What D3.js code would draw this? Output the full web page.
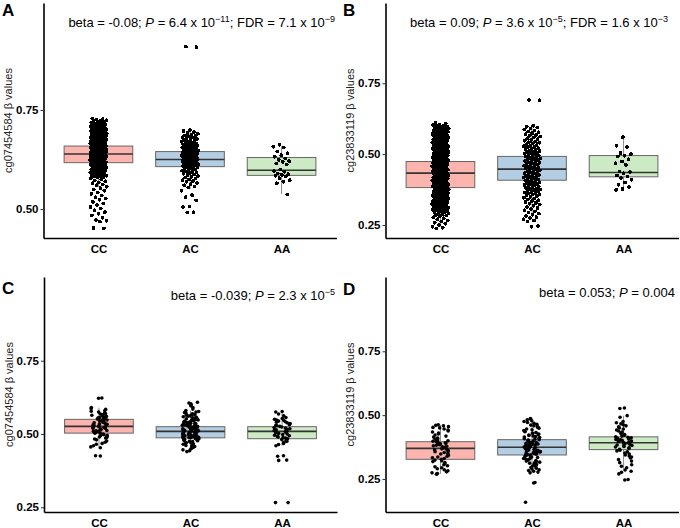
<!DOCTYPE html>
<html>
<head>
<meta charset="utf-8">
<script src="https://cdn.jsdelivr.net/npm/d3@7"></script>
<style>
body { margin: 0; background: #fff; }
svg { display: block; font-family: "Liberation Sans", Arial, sans-serif; }
</style>
</head>
<body>
<svg width="680" height="528"></svg>
<script>
const WIDTH = 680
const HEIGHT = 528
const JITTER = 0.092   // in category steps, each side
const BOX_W = 0.75

const genotypes = ["CC", "AC", "AA"]
const boxFills = ["#FBB4AE", "#B3CDE3", "#CCEBC5"]
const panelLetters = ["A", "B", "C", "D"]
const yTitles = ["cg07454584 \u03b2 values", "cg23833119 \u03b2 values", "cg07454584 \u03b2 values", "cg23833119 \u03b2 values"]
const yTicks = [0.25, 0.5, 0.75]

// panel annotations: [text, style]
const notes = [
    [["beta = -0.08; "], ["P", "i"], [" = 6.4 x 10"], ["\u221211", "sup"], ["; FDR = 7.1 x 10"], ["\u22129", "sup"]],
    [["beta = 0.09; "], ["P", "i"], [" = 3.6 x 10"], ["\u22125", "sup"], ["; FDR = 1.6 x 10"], ["\u22123", "sup"]],
    [["beta = -0.039; "], ["P", "i"], [" = 2.3 x 10"], ["\u22125", "sup"]],
    [["beta = 0.053; "], ["P", "i"], [" = 0.004"]]
]

// box statistics per panel, order CC, AC, AA
const whiskerLow = [[0.556, 0.550, 0.538], [0.244, 0.282, 0.374], [0.454, 0.440, 0.460], [0.270, 0.280, 0.290]]
const q1 = [[0.617, 0.607, 0.585], [0.382, 0.408, 0.420], [0.503, 0.487, 0.484], [0.327, 0.344, 0.365]]
const median = [[0.639, 0.625, 0.598], [0.433, 0.447, 0.435], [0.526, 0.509, 0.509], [0.370, 0.374, 0.392]]
const q3 = [[0.659, 0.645, 0.630], [0.474, 0.492, 0.495], [0.550, 0.525, 0.525], [0.396, 0.404, 0.415]]
const whiskerHigh = [[0.722, 0.700, 0.659], [0.610, 0.600, 0.558], [0.590, 0.580, 0.577], [0.462, 0.487, 0.498]]

// individual beta values
const aCC = [0.729, 0.727, 0.726, 0.724, 0.723, 0.722, 0.720, 0.719, 0.718, 0.716, 0.715, 0.714, 0.713, 0.712, 0.711, 0.710,
    0.709, 0.708, 0.707, 0.706, 0.705, 0.704, 0.703, 0.702, 0.701, 0.700, 0.699, 0.698, 0.697, 0.697, 0.696, 0.695, 0.694,
    0.694, 0.693, 0.692, 0.691, 0.691, 0.690, 0.689, 0.688, 0.688, 0.687, 0.686, 0.685, 0.685, 0.684, 0.683, 0.682, 0.682,
    0.681, 0.680, 0.679, 0.679, 0.678, 0.677, 0.676, 0.676, 0.675, 0.674, 0.673, 0.673, 0.672, 0.671, 0.670, 0.670, 0.669,
    0.668, 0.667, 0.667, 0.666, 0.665, 0.664, 0.664, 0.663, 0.662, 0.661, 0.661, 0.660, 0.659, 0.658, 0.657, 0.657, 0.656,
    0.655, 0.654, 0.654, 0.653, 0.652, 0.651, 0.651, 0.650, 0.649, 0.648, 0.648, 0.647, 0.646, 0.645, 0.645, 0.644, 0.643,
    0.642, 0.642, 0.641, 0.640, 0.639, 0.639, 0.638, 0.637, 0.636, 0.636, 0.635, 0.634, 0.633, 0.633, 0.632, 0.631, 0.630,
    0.630, 0.629, 0.628, 0.627, 0.627, 0.626, 0.625, 0.624, 0.624, 0.623, 0.622, 0.621, 0.621, 0.620, 0.619, 0.618, 0.618,
    0.617, 0.616, 0.615, 0.614, 0.613, 0.612, 0.611, 0.610, 0.609, 0.608, 0.607, 0.606, 0.605, 0.604, 0.603, 0.602, 0.601,
    0.600, 0.599, 0.598, 0.597, 0.596, 0.595, 0.594, 0.593, 0.592, 0.591, 0.590, 0.589, 0.588, 0.587, 0.586, 0.585, 0.584,
    0.583, 0.582, 0.581, 0.580, 0.578, 0.575, 0.572, 0.570, 0.567, 0.565, 0.562, 0.560, 0.556, 0.553, 0.549, 0.546, 0.542,
    0.538, 0.534, 0.530, 0.527, 0.523, 0.518, 0.514, 0.510, 0.505, 0.501, 0.497, 0.492, 0.488, 0.484, 0.478, 0.472, 0.470,
    0.468, 0.452, 0.451]
const aAC = [0.910, 0.909, 0.699, 0.697, 0.694, 0.692, 0.690, 0.688, 0.686, 0.685, 0.683, 0.681, 0.680, 0.678, 0.677, 0.675,
    0.674, 0.672, 0.671, 0.670, 0.668, 0.667, 0.666, 0.664, 0.663, 0.662, 0.661, 0.660, 0.659, 0.658, 0.657, 0.656, 0.655,
    0.654, 0.653, 0.652, 0.651, 0.650, 0.649, 0.648, 0.647, 0.646, 0.645, 0.644, 0.643, 0.642, 0.641, 0.640, 0.639, 0.638,
    0.637, 0.636, 0.635, 0.634, 0.633, 0.632, 0.631, 0.630, 0.629, 0.628, 0.627, 0.626, 0.625, 0.624, 0.623, 0.622, 0.621,
    0.620, 0.619, 0.618, 0.617, 0.616, 0.615, 0.614, 0.613, 0.612, 0.611, 0.610, 0.609, 0.608, 0.607, 0.606, 0.605, 0.603,
    0.602, 0.600, 0.599, 0.597, 0.596, 0.594, 0.593, 0.591, 0.589, 0.587, 0.585, 0.583, 0.581, 0.579, 0.577, 0.575, 0.573,
    0.571, 0.569, 0.566, 0.563, 0.560, 0.557, 0.554, 0.546, 0.535, 0.530, 0.522, 0.506, 0.505, 0.492, 0.491]
const aAA = [0.662, 0.657, 0.655, 0.645, 0.641, 0.636, 0.632, 0.628, 0.624, 0.621, 0.619, 0.615, 0.612, 0.600, 0.596, 0.594,
    0.590, 0.588, 0.586, 0.584, 0.582, 0.578, 0.573, 0.569, 0.565, 0.537]

const bCC = [0.610, 0.607, 0.605, 0.603, 0.601, 0.600, 0.598, 0.597, 0.595, 0.594, 0.592, 0.591, 0.589, 0.588, 0.586, 0.585,
    0.583, 0.582, 0.580, 0.579, 0.577, 0.576, 0.574, 0.573, 0.571, 0.570, 0.568, 0.567, 0.565, 0.564, 0.562, 0.561, 0.559,
    0.558, 0.556, 0.555, 0.553, 0.552, 0.550, 0.549, 0.547, 0.546, 0.544, 0.543, 0.541, 0.540, 0.538, 0.537, 0.535, 0.534,
    0.532, 0.531, 0.529, 0.528, 0.526, 0.525, 0.523, 0.522, 0.520, 0.519, 0.517, 0.516, 0.514, 0.513, 0.511, 0.510, 0.508,
    0.507, 0.505, 0.504, 0.502, 0.501, 0.499, 0.498, 0.496, 0.495, 0.493, 0.492, 0.490, 0.489, 0.487, 0.486, 0.484, 0.483,
    0.481, 0.480, 0.478, 0.477, 0.475, 0.474, 0.472, 0.471, 0.469, 0.468, 0.466, 0.465, 0.463, 0.462, 0.460, 0.459, 0.457,
    0.456, 0.454, 0.453, 0.451, 0.450, 0.448, 0.447, 0.445, 0.444, 0.442, 0.441, 0.439, 0.438, 0.436, 0.435, 0.433, 0.432,
    0.430, 0.429, 0.427, 0.426, 0.424, 0.423, 0.421, 0.420, 0.418, 0.417, 0.415, 0.414, 0.412, 0.411, 0.409, 0.408, 0.406,
    0.405, 0.403, 0.402, 0.400, 0.399, 0.397, 0.396, 0.394, 0.393, 0.391, 0.390, 0.388, 0.387, 0.385, 0.384, 0.382, 0.381,
    0.379, 0.378, 0.376, 0.375, 0.373, 0.372, 0.370, 0.369, 0.367, 0.366, 0.364, 0.363, 0.361, 0.360, 0.358, 0.357, 0.355,
    0.354, 0.352, 0.351, 0.349, 0.348, 0.346, 0.345, 0.343, 0.342, 0.340, 0.339, 0.337, 0.336, 0.334, 0.333, 0.331, 0.330,
    0.328, 0.327, 0.325, 0.324, 0.322, 0.321, 0.319, 0.318, 0.316, 0.315, 0.313, 0.312, 0.310, 0.309, 0.307, 0.306, 0.304,
    0.303, 0.301, 0.300, 0.298, 0.296, 0.294, 0.292, 0.290, 0.288, 0.285, 0.283, 0.280, 0.277, 0.274, 0.270, 0.266, 0.262,
    0.258, 0.254, 0.250, 0.244, 0.240, 0.238]
const bAC = [0.691, 0.690, 0.600, 0.597, 0.594, 0.590, 0.587, 0.583, 0.580, 0.577, 0.574, 0.571, 0.568, 0.565, 0.562, 0.559,
    0.556, 0.553, 0.550, 0.547, 0.545, 0.542, 0.540, 0.537, 0.535, 0.532, 0.530, 0.528, 0.525, 0.523, 0.521, 0.519, 0.517,
    0.515, 0.513, 0.511, 0.509, 0.507, 0.505, 0.503, 0.501, 0.499, 0.497, 0.495, 0.493, 0.491, 0.489, 0.487, 0.485, 0.483,
    0.481, 0.479, 0.477, 0.475, 0.473, 0.471, 0.469, 0.467, 0.465, 0.463, 0.461, 0.459, 0.457, 0.455, 0.453, 0.451, 0.449,
    0.447, 0.445, 0.443, 0.441, 0.439, 0.437, 0.435, 0.433, 0.431, 0.429, 0.427, 0.425, 0.423, 0.421, 0.419, 0.417, 0.415,
    0.413, 0.411, 0.409, 0.407, 0.405, 0.403, 0.401, 0.399, 0.397, 0.395, 0.393, 0.391, 0.389, 0.387, 0.385, 0.383, 0.381,
    0.379, 0.377, 0.375, 0.373, 0.371, 0.369, 0.367, 0.365, 0.363, 0.361, 0.359, 0.357, 0.355, 0.352, 0.349, 0.346, 0.343,
    0.340, 0.337, 0.334, 0.331, 0.328, 0.325, 0.322, 0.318, 0.314, 0.310, 0.306, 0.302, 0.298, 0.294, 0.290, 0.286, 0.282,
    0.278, 0.274, 0.270, 0.266, 0.262, 0.246, 0.244]
const bAA = [0.560, 0.530, 0.525, 0.504, 0.500, 0.494, 0.492, 0.482, 0.474, 0.468, 0.462, 0.439, 0.437, 0.433, 0.425, 0.421,
    0.415, 0.410, 0.400, 0.392, 0.384, 0.377, 0.374]

const cCC = [0.623, 0.622, 0.590, 0.587, 0.584, 0.580, 0.578, 0.575, 0.572, 0.570, 0.568, 0.566, 0.564, 0.562, 0.560, 0.558,
    0.556, 0.555, 0.553, 0.551, 0.550, 0.548, 0.546, 0.545, 0.543, 0.541, 0.540, 0.538, 0.536, 0.535, 0.533, 0.531, 0.530,
    0.528, 0.527, 0.526, 0.525, 0.523, 0.522, 0.520, 0.519, 0.517, 0.516, 0.514, 0.512, 0.511, 0.509, 0.508, 0.506, 0.505,
    0.503, 0.502, 0.500, 0.498, 0.496, 0.494, 0.492, 0.490, 0.488, 0.486, 0.483, 0.480, 0.476, 0.472, 0.468, 0.465, 0.460,
    0.456, 0.453, 0.426, 0.425]
const cAC = [0.608, 0.606, 0.603, 0.600, 0.596, 0.590, 0.585, 0.580, 0.577, 0.575, 0.573, 0.571, 0.569, 0.567, 0.566, 0.564,
    0.562, 0.561, 0.559, 0.558, 0.556, 0.555, 0.553, 0.552, 0.550, 0.549, 0.548, 0.546, 0.545, 0.544, 0.542, 0.541, 0.540,
    0.539, 0.537, 0.536, 0.535, 0.534, 0.533, 0.531, 0.530, 0.529, 0.528, 0.527, 0.526, 0.525, 0.524, 0.523, 0.522, 0.521,
    0.520, 0.519, 0.518, 0.517, 0.516, 0.515, 0.514, 0.513, 0.512, 0.511, 0.510, 0.509, 0.508, 0.507, 0.506, 0.505, 0.504,
    0.503, 0.502, 0.501, 0.500, 0.499, 0.498, 0.497, 0.496, 0.495, 0.494, 0.493, 0.492, 0.491, 0.490, 0.489, 0.488, 0.487,
    0.486, 0.485, 0.484, 0.482, 0.481, 0.480, 0.478, 0.477, 0.475, 0.474, 0.472, 0.470, 0.469, 0.467, 0.465, 0.463, 0.461,
    0.459, 0.457, 0.455, 0.452, 0.449, 0.446, 0.443, 0.440]
const cAA = [0.577, 0.575, 0.568, 0.562, 0.556, 0.553, 0.550, 0.548, 0.546, 0.544, 0.542, 0.540, 0.538, 0.536, 0.534, 0.532,
    0.530, 0.528, 0.526, 0.524, 0.522, 0.520, 0.518, 0.516, 0.514, 0.512, 0.510, 0.508, 0.506, 0.504, 0.502, 0.500, 0.498,
    0.496, 0.494, 0.492, 0.490, 0.488, 0.486, 0.484, 0.481, 0.478, 0.475, 0.472, 0.468, 0.464, 0.460, 0.426, 0.424, 0.411,
    0.410, 0.266, 0.266]

const dCC = [0.462, 0.460, 0.458, 0.455, 0.452, 0.450, 0.446, 0.442, 0.438, 0.434, 0.430, 0.426, 0.422, 0.418, 0.414, 0.410,
    0.406, 0.403, 0.400, 0.398, 0.396, 0.394, 0.392, 0.390, 0.388, 0.386, 0.384, 0.382, 0.380, 0.378, 0.376, 0.374, 0.372,
    0.370, 0.368, 0.366, 0.364, 0.362, 0.360, 0.357, 0.354, 0.351, 0.348, 0.345, 0.342, 0.339, 0.336, 0.333, 0.330, 0.327,
    0.324, 0.321, 0.318, 0.314, 0.310, 0.306, 0.302, 0.298, 0.294, 0.290, 0.286, 0.282, 0.278, 0.274, 0.271, 0.269]
const dAC = [0.487, 0.485, 0.482, 0.478, 0.475, 0.471, 0.468, 0.464, 0.461, 0.458, 0.455, 0.452, 0.449, 0.446, 0.443, 0.440,
    0.437, 0.435, 0.432, 0.430, 0.428, 0.426, 0.424, 0.422, 0.420, 0.418, 0.416, 0.414, 0.412, 0.410, 0.408, 0.406, 0.404,
    0.402, 0.401, 0.399, 0.398, 0.396, 0.395, 0.393, 0.392, 0.390, 0.389, 0.387, 0.386, 0.384, 0.383, 0.381, 0.380, 0.378,
    0.377, 0.375, 0.374, 0.372, 0.371, 0.369, 0.368, 0.366, 0.365, 0.363, 0.362, 0.360, 0.359, 0.357, 0.356, 0.354, 0.353,
    0.351, 0.350, 0.348, 0.347, 0.345, 0.344, 0.342, 0.340, 0.338, 0.336, 0.334, 0.332, 0.330, 0.328, 0.326, 0.324, 0.322,
    0.320, 0.318, 0.316, 0.314, 0.312, 0.310, 0.307, 0.304, 0.301, 0.298, 0.295, 0.292, 0.289, 0.286, 0.283, 0.280, 0.277,
    0.274, 0.236, 0.234, 0.159]
const dAA = [0.528, 0.526, 0.498, 0.492, 0.475, 0.470, 0.466, 0.462, 0.458, 0.454, 0.450, 0.446, 0.442, 0.438, 0.434, 0.430,
    0.427, 0.424, 0.421, 0.418, 0.415, 0.413, 0.411, 0.409, 0.407, 0.405, 0.403, 0.401, 0.399, 0.397, 0.395, 0.393, 0.391,
    0.389, 0.387, 0.385, 0.383, 0.381, 0.379, 0.377, 0.375, 0.372, 0.369, 0.366, 0.363, 0.360, 0.356, 0.352, 0.348, 0.344,
    0.340, 0.336, 0.332, 0.326, 0.320, 0.314, 0.306, 0.300, 0.294, 0.285, 0.280, 0.276, 0.270, 0.248, 0.246]

const points = [[aCC, aAC, aAA], [bCC, bAC, bAA], [cCC, cAC, cAA], [dCC, dAC, dAA]]

// where each panel sits on the page; dense panels get an even jitter so the blobs fill
const layout = [
    { left: 43.5, right: 336.5, top: 3, bottom: 238, y: [0.4268, 1.0202], letter: [2, 16], note: [335, 27], even: true, r: 1.9 },
    { left: 385.5, right: 678.5, top: 3, bottom: 238, y: [0.2041, 1.0334], letter: [343, 16], note: [668, 27], even: true, r: 1.9 },
    { left: 44, right: 337, top: 277, bottom: 512, y: [0.234, 1.0355], letter: [2, 294], note: [335, 300], even: false, r: 1.8 },
    { left: 385.5, right: 678.5, top: 277, bottom: 512, y: [0.1207, 1.041], letter: [343, 295], note: [675, 297], even: false, r: 1.8 }
]

const svg = d3.select("svg")
svg.append("rect").attr("width", WIDTH).attr("height", HEIGHT).attr("fill", "#fff")

function jitter(i, seed, even) {
    let f
    if (even) {
        f = (i * 0.6180339887 + seed) % 1
    } else {
        let v = Math.sin((i + 1) * 12.9898 + seed * 78.233) * 43758.5453
        f = v - Math.floor(v)
    }
    return (f - 0.5) * 2 * JITTER
}

function drawNote(g, parts, xr, y) {
    let t = g.append("text")
        .attr("x", xr)
        .attr("y", y)
        .attr("text-anchor", "end")
        .attr("font-size", 13)
        .attr("fill", "#000")
    let raised = false
    parts.forEach(p => {
        let s = t.append("tspan").text(p[0])
        if (p[1] === "i") s.attr("font-style", "italic")
        if (p[1] === "sup") {
            s.attr("font-size", 9).attr("dy", -5)
            raised = true
        } else if (raised) {
            s.attr("dy", 5)
            raised = false
        }
    })
}

layout.forEach((L, pi) => {
    let g = svg.append("g")

    let x = d3.scalePoint()
        .domain(genotypes)
        .range([L.left, L.right])
        .padding(0.6)

    let y = d3.scaleLinear()
        .domain(L.y)
        .range([L.bottom, L.top])

    let step = x.step()
    let bw = step * BOX_W

    // whiskers
    genotypes.forEach((gt, gi) => {
        g.append("line")
            .attr("x1", x(gt)).attr("x2", x(gt))
            .attr("y1", y(whiskerHigh[pi][gi])).attr("y2", y(q3[pi][gi]))
            .attr("stroke", "#8a8a8a").attr("stroke-width", 1)
        g.append("line")
            .attr("x1", x(gt)).attr("x2", x(gt))
            .attr("y1", y(q1[pi][gi])).attr("y2", y(whiskerLow[pi][gi]))
            .attr("stroke", "#8a8a8a").attr("stroke-width", 1)
    })

    // boxes
    g.selectAll("rect.box")
        .data(genotypes)
        .join("rect")
        .classed("box", true)
        .attr("x", d => x(d) - bw / 2)
        .attr("width", bw)
        .attr("y", (d, i) => y(q3[pi][i]))
        .attr("height", (d, i) => y(q1[pi][i]) - y(q3[pi][i]))
        .attr("fill", (d, i) => boxFills[i])
        .attr("stroke", "#666")
        .attr("stroke-width", 1)

    g.selectAll("line.median")
        .data(genotypes)
        .join("line")
        .classed("median", true)
        .attr("x1", d => x(d) - bw / 2)
        .attr("x2", d => x(d) + bw / 2)
        .attr("y1", (d, i) => y(median[pi][i]))
        .attr("y2", (d, i) => y(median[pi][i]))
        .attr("stroke", "#333")
        .attr("stroke-width", 1.6)

    // jittered points; the dense panels are drawn without antialiasing so the blobs come out solid
    genotypes.forEach((gt, gi) => {
        g.append("g")
            .attr("shape-rendering", L.even ? "crispEdges" : "auto")
            .selectAll("circle")
            .data(points[pi][gi])
            .join("circle")
            .attr("cx", (d, i) => x(gt) + jitter(i, 0.13 * (gi + 1) + 0.07 * pi, L.even) * step)
            .attr("cy", d => y(d))
            .attr("r", L.r)
            .attr("fill", "#000")
    })

    // axes
    let yAxis = g.append("g")
        .attr("transform", "translate(" + L.left + ",0)")
        .call(d3.axisLeft(y)
            .tickValues(yTicks.filter(v => v >= L.y[0] && v <= L.y[1]))
            .tickFormat(d3.format(".2f"))
            .tickSize(3)
            .tickSizeOuter(0)
            .tickPadding(2))
    yAxis.select(".domain").attr("stroke", "#000").attr("stroke-width", 1.6)
    yAxis.selectAll(".tick line").attr("stroke", "#333")
    yAxis.selectAll(".tick text")
        .attr("font-family", "Liberation Sans, Arial, sans-serif")
        .attr("font-size", 11.5)
        .attr("font-weight", "bold")
        .attr("fill", "#000")

    let xAxis = g.append("g")
        .attr("transform", "translate(0," + L.bottom + ")")
        .call(d3.axisBottom(x)
            .tickSize(0)
            .tickSizeOuter(0)
            .tickPadding(7))
    xAxis.select(".domain").attr("stroke", "#000").attr("stroke-width", 1.6)
    xAxis.selectAll(".tick text")
        .attr("font-family", "Liberation Sans, Arial, sans-serif")
        .attr("font-size", 11.5)
        .attr("font-weight", "bold")
        .attr("fill", "#000")

    // y title
    g.append("text")
        .attr("transform", "translate(" + (L.left - 31.5) + "," + ((L.top + L.bottom) / 2) + ") rotate(-90)")
        .attr("text-anchor", "middle")
        .attr("font-size", 11)
        .attr("fill", "#222")
        .text(yTitles[pi])

    // panel letter
    g.append("text")
        .attr("x", L.letter[0])
        .attr("y", L.letter[1])
        .attr("font-size", 17)
        .attr("font-weight", "bold")
        .text(panelLetters[pi])

    drawNote(g, notes[pi], L.note[0], L.note[1])
})
</script>
</body>
</html>
